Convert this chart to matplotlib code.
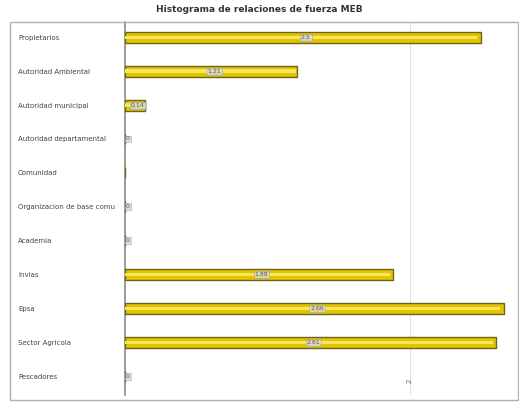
import matplotlib.pyplot as plt
from matplotlib.patches import Rectangle

# categories, top to bottom
categories = ['Propietarios', 'Autoridad Ambiental', 'Autoridad municipal',
              'Autoridad departamental', 'Comunidad', 'Organizacion de base comu',
              'Academia', 'Invias', 'Epsa', 'Sector Agricola', 'Pescadores']
values = [2.5, 1.21, 0.14, 0.0, 0.0, 0.0, 0.0, 1.88, 2.66, 2.61, 0.0]
labels = ['2.5', '1.21', '0.14', '0', '', '0', '0', '1.88', '2.66', '2.61', '0']
xticks = [2]

fig = plt.figure(figsize=(5.19, 4.04), dpi=100)
ax = fig.add_axes([125 / 519, 1 - 395 / 404, (515 - 125) / 519, (395 - 22) / 404])

# outer frame around the plot area
fig.patches.append(Rectangle((10 / 519, 4 / 404), 508 / 519, 378 / 404,
                             transform=fig.transFigure, fill=False,
                             edgecolor='#b0b0b0', linewidth=1))

y = list(range(len(categories)))
ax.barh(y, values, height=0.32, color='#e2c400', edgecolor='#6e6420', linewidth=1, zorder=3)
# highlight stripe on bars
ax.barh(y, [v * 0.99 for v in values], height=0.1, color='#f6e85a', linewidth=0, zorder=4)

for yi, v, lab in zip(y, values, labels):
    if lab == '':
        continue
    ax.text(v / 2 + 0.02, yi, lab, ha='center', va='center', fontsize=4.5, color='#555555',
            zorder=5, bbox=dict(boxstyle='square,pad=0.15', facecolor='#d8d8d8',
                                edgecolor='#999999', linewidth=0.4, alpha=0.8))

ax.set_ylim(len(categories) - 0.45, -0.45)
ax.set_xlim(0, 2.74)
ax.set_yticks(y)
ax.set_yticklabels(categories, fontsize=5, color='#444444', ha='left')
ax.tick_params(axis='y', length=0, pad=77)
ax.set_xticks(xticks)
ax.set_xticklabels([str(t) for t in xticks], fontsize=5, color='#666666', rotation=90)
ax.tick_params(axis='x', length=0, pad=-12)
ax.grid(axis='x', color='#e0e0e0', linewidth=0.8, zorder=0)

for side in ['top', 'right', 'bottom']:
    ax.spines[side].set_visible(False)
ax.spines['left'].set_color('#888888')
ax.spines['left'].set_linewidth(1.2)

fig.text(0.5, 1 - 10 / 404, 'Histograma de relaciones de fuerza MEB', ha='center', va='center',
         fontsize=6.5, fontweight='bold', color='#333333')

fig.savefig('out.png', dpi=100)
